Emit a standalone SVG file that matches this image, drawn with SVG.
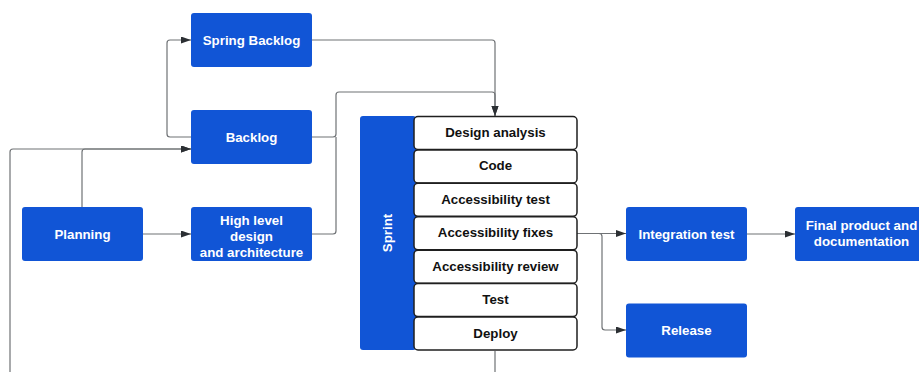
<svg xmlns="http://www.w3.org/2000/svg" width="919" height="372" viewBox="0 0 919 372">
<style>
.b{fill:#1155d6;}
.w{fill:#fff;stroke:#1f1f1f;stroke-width:1.5;}
.tw{fill:#fff;font-family:"Liberation Sans",Arial,sans-serif;font-weight:bold;font-size:13.3px;text-anchor:middle;}
.tb{fill:#111;font-family:"Liberation Sans",Arial,sans-serif;font-weight:bold;font-size:13.3px;text-anchor:middle;}
.c{fill:none;stroke:#6f7275;stroke-width:1.2;}
</style>
<defs>
<marker id="a" markerUnits="userSpaceOnUse" markerWidth="11" markerHeight="8" refX="10" refY="3.5" orient="auto">
<path d="M0,0 L10,3.5 L0,7 z" fill="#2b2f33"/>
</marker>
</defs>
<rect width="919" height="372" fill="#fff"/>
<g id="connectors">
<path class="c" d="M312 40 H492 a3 3 0 0 1 3 3 V116" marker-end="url(#a)"/>
<path class="c" d="M312 137 H333 a3 3 0 0 0 3 -3 V95 a3 3 0 0 1 3 -3 H492 a3 3 0 0 1 3 3 V116" marker-end="url(#a)"/>
<path class="c" d="M312 234 H333 a3 3 0 0 0 3 -3 V137"/>
<path class="c" d="M191 137 H170 a3 3 0 0 1 -3 -3 V43 a3 3 0 0 1 3 -3 H191" marker-end="url(#a)"/>
<path class="c" d="M82 207 V152 a3 3 0 0 1 3 -3 H191" marker-end="url(#a)"/>
<path class="c" d="M495 351 V385 H10 V152 a3 3 0 0 1 3 -3 H191" marker-end="url(#a)"/>
<path class="c" d="M143 234 H191" marker-end="url(#a)"/>
<path class="c" d="M577 233.5 H626" marker-end="url(#a)"/>
<path class="c" d="M599 233.5 a3 3 0 0 1 3 3 V327 a3 3 0 0 0 3 3 H626" marker-end="url(#a)"/>
<path class="c" d="M747 234 H795" marker-end="url(#a)"/>
</g>
<g id="spring-backlog"><rect class="b" x="191" y="13" width="121" height="54" rx="3"/><text class="tw" x="251.5" y="44.5">Spring Backlog</text></g>
<g id="backlog"><rect class="b" x="191" y="110" width="121" height="54" rx="3"/><text class="tw" x="251.5" y="141.5">Backlog</text></g>
<g id="planning"><rect class="b" x="22" y="207" width="121" height="54" rx="3"/><text class="tw" x="82.5" y="238.5">Planning</text></g>
<g id="high-level"><rect class="b" x="191" y="207" width="121" height="54" rx="3"/><text class="tw" x="251.5" y="225">High level</text><text class="tw" x="251.5" y="241">design</text><text class="tw" x="251.5" y="257">and architecture</text></g>
<g id="sprint"><rect class="b" x="360" y="116" width="56" height="234" rx="3"/><text class="tw" transform="translate(391.5 233) rotate(-90)">Sprint</text></g>
<g id="design-analysis"><rect class="w" x="414" y="116.5" width="163" height="33" rx="4"/><text class="tb" x="495.5" y="137">Design analysis</text></g>
<g id="code"><rect class="w" x="414" y="149.9" width="163" height="33" rx="4"/><text class="tb" x="495.5" y="170.4">Code</text></g>
<g id="accessibility-test"><rect class="w" x="414" y="183.3" width="163" height="33" rx="4"/><text class="tb" x="495.5" y="203.8">Accessibility test</text></g>
<g id="accessibility-fixes"><rect class="w" x="414" y="216.8" width="163" height="33" rx="4"/><text class="tb" x="495.5" y="237.3">Accessibility fixes</text></g>
<g id="accessibility-review"><rect class="w" x="414" y="250.2" width="163" height="33" rx="4"/><text class="tb" x="495.5" y="270.7">Accessibility review</text></g>
<g id="test"><rect class="w" x="414" y="283.6" width="163" height="33" rx="4"/><text class="tb" x="495.5" y="304.1">Test</text></g>
<g id="deploy"><rect class="w" x="414" y="317" width="163" height="33" rx="4"/><text class="tb" x="495.5" y="337.5">Deploy</text></g>
<g id="integration-test"><rect class="b" x="626" y="207" width="121" height="54" rx="3"/><text class="tw" x="686.5" y="238.5">Integration test</text></g>
<g id="release"><rect class="b" x="626" y="303.5" width="121" height="54" rx="3"/><text class="tw" x="686.5" y="335">Release</text></g>
<g id="final-product"><rect class="b" x="795" y="207" width="135" height="54" rx="3"/><text class="tw" x="861.5" y="229.5">Final product and</text><text class="tw" x="861.5" y="245.5">documentation</text></g>
</svg>
